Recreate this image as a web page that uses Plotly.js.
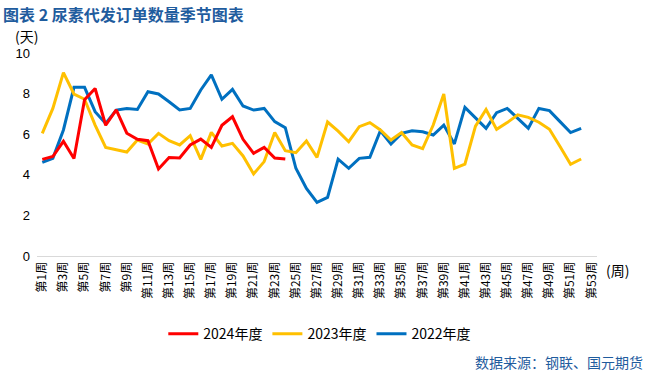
<!DOCTYPE html>
<html>
<head>
<meta charset="utf-8">
<script src="https://cdn.plot.ly/plotly-3.0.1.min.js"></script>
<style>html,body{margin:0;padding:0;background:#fff;}#chart{width:650px;height:374px;}</style>
</head>
<body>
<div id="chart"></div>
<script>
const weeks = Array.from({length: 53}, (_, i) => '第' + (i + 1) + '周');
const tickWeeks = weeks.filter((_, i) => i % 2 === 0);

const y2024 = [4.76, 4.9, 5.65, 4.8, 7.7, 8.25, 6.44, 7.2, 6.05, 5.75, 5.68, 4.29, 4.85, 4.83, 5.47, 5.76, 5.35, 6.44, 6.86, 5.75, 5.06, 5.35, 4.83, 4.78];
const y2023 = [6.04, 7.27, 9.03, 7.98, 7.72, 6.45, 5.35, 5.22, 5.12, 5.71, 5.52, 6.04, 5.68, 5.47, 5.93, 4.76, 6.09, 5.42, 5.55, 4.93, 4.04, 4.65, 6.08, 5.19, 5.09, 5.67, 4.86, 6.6, 6.15, 5.63, 6.37, 6.57, 6.21, 5.71, 6.08, 5.47, 5.29, 6.45, 7.98, 4.32, 4.53, 6.4, 7.22, 6.24, 6.57, 6.95, 6.83, 6.59, 6.24, 5.39, 4.52, 4.78];
const y2022 = [4.61, 4.81, 6.21, 8.31, 8.31, 7.11, 6.53, 7.19, 7.27, 7.22, 8.09, 7.98, 7.6, 7.19, 7.27, 8.18, 8.92, 7.72, 8.21, 7.39, 7.19, 7.27, 6.62, 6.32, 4.32, 3.33, 2.64, 2.89, 4.77, 4.32, 4.81, 4.86, 6.17, 5.52, 6.04, 6.17, 6.12, 5.96, 6.45, 5.52, 7.32, 6.78, 6.29, 7.06, 7.27, 6.78, 6.29, 7.27, 7.16, 6.62, 6.08, 6.29];

const seriesNames = ['2024年度', '2023年度', '2022年度'];
const seriesColors = ['#FF0000', '#FFC000', '#0070C0'];
const seriesData = [y2024, y2023, y2022];

const traces = seriesData.map((ys, k) => ({
  type: 'scatter',
  mode: 'lines',
  name: seriesNames[k],
  x: weeks.slice(0, ys.length),
  y: ys,
  line: {color: seriesColors[k], width: 3},
  legendrank: k + 1
})).reverse();

const blue = '#1F5C9E';
const layout = {
  width: 650,
  height: 374,
  margin: {l: 37, r: 53, t: 53, b: 118},
  paper_bgcolor: '#fff',
  plot_bgcolor: '#fff',
  font: {family: 'Liberation Sans, Noto Sans CJK SC, sans-serif', color: '#000'},
  showlegend: true,
  legend: {
    orientation: 'h',
    x: 0.505, xanchor: 'center',
    y: -0.385, yanchor: 'middle',
    font: {size: 14, family: 'Noto Sans CJK SC, sans-serif', color: '#000'},
    itemwidth: 30,
    tracegroupgap: 0
  },
  xaxis: {
    type: 'category',
    categoryorder: 'array',
    categoryarray: weeks,
    range: [-0.5, 52.5],
    tickmode: 'array',
    tickvals: tickWeeks,
    ticktext: tickWeeks,
    tickangle: -90,
    tickfont: {size: 12, family: 'Noto Sans CJK SC, sans-serif', color: '#000'},
    showgrid: false,
    showline: true,
    linecolor: '#D9D9D9',
    linewidth: 1,
    ticks: '',
    zeroline: false
  },
  yaxis: {
    range: [0, 10],
    tickvals: [0, 2, 4, 6, 8, 10],
    tickfont: {size: 13, family: 'Liberation Sans, sans-serif', color: '#000'},
    showgrid: false,
    zeroline: false,
    showline: false,
    ticks: '',
    ticklabelstandoff: 6
  },
  annotations: [
    {text: '<b>图表 2 尿素代发订单数量季节图表</b>', xref: 'paper', yref: 'paper', x: -0.062, y: 1.258, xanchor: 'left', yanchor: 'top', showarrow: false, borderpad: 0, font: {size: 16, color: blue, family: 'Noto Sans CJK SC, sans-serif'}},
    {text: '(天)', xref: 'paper', yref: 'paper', x: -0.018, y: 1.084, xanchor: 'center', yanchor: 'middle', showarrow: false, font: {size: 14, color: '#000', family: 'Noto Sans CJK SC, sans-serif'}},
    {text: '(周)', xref: 'paper', yref: 'paper', x: 1.012, y: -0.069, xanchor: 'left', yanchor: 'middle', showarrow: false, font: {size: 14, color: '#000', family: 'Noto Sans CJK SC, sans-serif'}},
    {text: '数据来源：钢联、国元期货', xref: 'paper', yref: 'paper', x: 1.086, y: -0.522, xanchor: 'right', yanchor: 'middle', showarrow: false, font: {size: 14, color: blue, family: 'Noto Sans CJK SC, sans-serif'}}
  ]
};

Plotly.newPlot('chart', traces, layout, {displayModeBar: false, staticPlot: true});
</script>
</body>
</html>
